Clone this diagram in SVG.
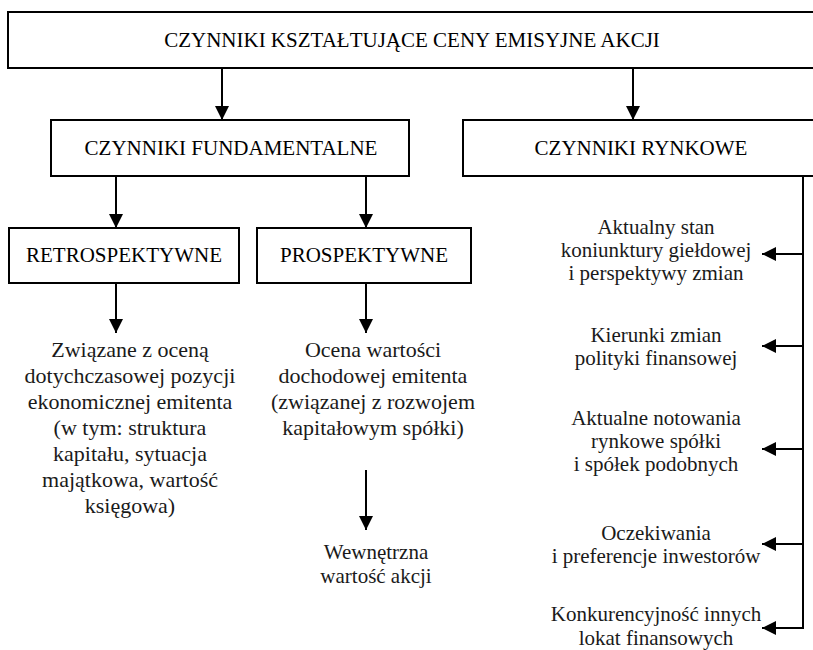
<svg xmlns="http://www.w3.org/2000/svg" width="813" height="650" viewBox="0 0 813 650">
  <style>
    .box { fill: #ffffff; stroke: #000000; stroke-width: 2; }
    .line { fill: none; stroke: #000000; stroke-width: 2; }
    .lbl { font-family: "Liberation Serif", "Times New Roman", "DejaVu Serif", serif; font-size: 21px; fill: #000000; text-anchor: middle; }
    .txt { font-family: "Liberation Serif", "Times New Roman", "DejaVu Serif", serif; font-size: 22px; fill: #1a1a1a; text-anchor: middle; }
    .txt-r { font-family: "Liberation Serif", "Times New Roman", "DejaVu Serif", serif; font-size: 21px; fill: #1a1a1a; text-anchor: middle; }
  </style>
  <defs>
    <marker id="arrow" viewBox="0 0 14 14" refX="14" refY="7" markerWidth="14" markerHeight="14" markerUnits="userSpaceOnUse" orient="auto">
      <path d="M0,0 L14,7 L0,14 Z" fill="#000000"/>
    </marker>
  </defs>
  <rect width="813" height="650" fill="#ffffff"/>

  <g id="connectors">
    <line class="line" x1="222" y1="68" x2="222" y2="120" marker-end="url(#arrow)"/>
    <line class="line" x1="633" y1="68" x2="633" y2="120" marker-end="url(#arrow)"/>
    <line class="line" x1="116" y1="176" x2="116" y2="228" marker-end="url(#arrow)"/>
    <line class="line" x1="366" y1="176" x2="366" y2="228" marker-end="url(#arrow)"/>
    <line class="line" x1="116" y1="283" x2="116" y2="333" marker-end="url(#arrow)"/>
    <line class="line" x1="366" y1="283" x2="366" y2="333" marker-end="url(#arrow)"/>
    <line class="line" x1="366" y1="470" x2="366" y2="530" marker-end="url(#arrow)"/>
    <line class="line" x1="803" y1="176" x2="803" y2="629"/>
    <line class="line" x1="803" y1="254" x2="762" y2="254" marker-end="url(#arrow)"/>
    <line class="line" x1="803" y1="346" x2="762" y2="346" marker-end="url(#arrow)"/>
    <line class="line" x1="803" y1="449" x2="762" y2="449" marker-end="url(#arrow)"/>
    <line class="line" x1="803" y1="544" x2="762" y2="544" marker-end="url(#arrow)"/>
    <line class="line" x1="804" y1="628" x2="762" y2="628" marker-end="url(#arrow)"/>
  </g>

  <g id="czynniki-ksztaltujace">
    <rect class="box" x="8" y="12" width="820" height="56"/>
    <text class="lbl" x="412" y="47">CZYNNIKI KSZTAŁTUJĄCE CENY EMISYJNE AKCJI</text>
  </g>

  <g id="czynniki-fundamentalne">
    <rect class="box" x="51" y="120" width="358" height="56"/>
    <text class="lbl" x="231" y="155">CZYNNIKI FUNDAMENTALNE</text>
  </g>

  <g id="czynniki-rynkowe">
    <rect class="box" x="463" y="120" width="370" height="56"/>
    <text class="lbl" x="641" y="155">CZYNNIKI RYNKOWE</text>
  </g>

  <g id="retrospektywne">
    <rect class="box" x="9" y="228" width="230" height="55"/>
    <text class="lbl" x="124" y="262">RETROSPEKTYWNE</text>
  </g>

  <g id="prospektywne">
    <rect class="box" x="257" y="228" width="214" height="55"/>
    <text class="lbl" x="364" y="262">PROSPEKTYWNE</text>
  </g>

  <g id="ocena-pozycji">
    <text class="txt" x="130" y="357">Związane z oceną</text>
    <text class="txt" x="130" y="383">dotychczasowej pozycji</text>
    <text class="txt" x="130" y="409">ekonomicznej emitenta</text>
    <text class="txt" x="130" y="435">(w tym: struktura</text>
    <text class="txt" x="130" y="461">kapitału, sytuacja</text>
    <text class="txt" x="130" y="487">majątkowa, wartość</text>
    <text class="txt" x="130" y="513">księgowa)</text>
  </g>

  <g id="ocena-dochodowej">
    <text class="txt" x="373" y="357">Ocena wartości</text>
    <text class="txt" x="373" y="383">dochodowej emitenta</text>
    <text class="txt" x="373" y="409">(związanej z rozwojem</text>
    <text class="txt" x="373" y="435">kapitałowym spółki)</text>
  </g>

  <g id="wartosc-wewnetrzna">
    <text class="txt-r" x="376" y="559">Wewnętrzna</text>
    <text class="txt-r" x="376" y="583">wartość akcji</text>
  </g>

  <g id="koniunktura">
    <text class="txt-r" x="656" y="234">Aktualny stan</text>
    <text class="txt-r" x="656" y="257">koniunktury giełdowej</text>
    <text class="txt-r" x="656" y="280">i perspektywy zmian</text>
  </g>

  <g id="polityka-finansowa">
    <text class="txt-r" x="656" y="342">Kierunki zmian</text>
    <text class="txt-r" x="656" y="365">polityki finansowej</text>
  </g>

  <g id="notowania">
    <text class="txt-r" x="656" y="425">Aktualne notowania</text>
    <text class="txt-r" x="656" y="448">rynkowe spółki</text>
    <text class="txt-r" x="656" y="471">i spółek podobnych</text>
  </g>

  <g id="oczekiwania">
    <text class="txt-r" x="656" y="540">Oczekiwania</text>
    <text class="txt-r" x="656" y="563">i preferencje inwestorów</text>
  </g>

  <g id="konkurencyjnosc">
    <text class="txt-r" x="656" y="621">Konkurencyjność innych</text>
    <text class="txt-r" x="656" y="645">lokat finansowych</text>
  </g>
</svg>
